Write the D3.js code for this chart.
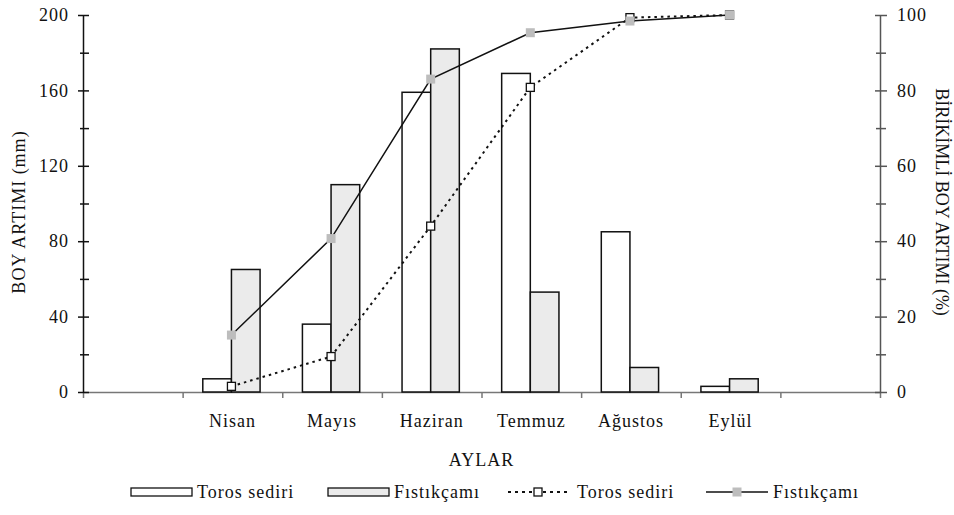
<!DOCTYPE html>
<html>
<head>
<meta charset="utf-8">
<script src="https://cdn.jsdelivr.net/npm/d3@7"></script>
<style>
  body { margin: 0; background: #fff; }
  svg text { font-family: "Liberation Serif", "Times New Roman", serif; font-size: 18px; letter-spacing: 1px; fill: #111; }
</style>
</head>
<body>
<svg width="954" height="515"></svg>
<script>
// values
let months = ["Nisan", "Mayıs", "Haziran", "Temmuz", "Ağustos", "Eylül"];
let torosBoy = [7, 36, 159, 169, 85, 3];          // mm
let fistikBoy = [65, 110, 182, 53, 13, 7];        // mm
let torosBirikimli = [1.5, 9.4, 44, 80.8, 99.3, 100];  // %
let fistikBirikimli = [15.1, 40.7, 83, 95.3, 98.4, 100]; // %
let leftTicks = [0, 40, 80, 120, 160, 200];
let rightTicks = [0, 20, 40, 60, 80, 100];

let svg = d3.select("svg");

let margin = { top: 15, right: 74, bottom: 123, left: 83 },
    width = +svg.attr("width") - margin.left - margin.right,
    height = +svg.attr("height") - margin.top - margin.bottom;

let g = svg.append("g")
    .attr("transform", "translate(" + margin.left + "," + margin.top + ")");

// empty category on each side, like the original
let domain = ["", ...months, " "];

let x = d3.scaleBand()
    .domain(domain)
    .range([0, width]);

let bw = x.bandwidth();
let groupW = bw * 0.575;

let xInner = d3.scaleBand()
    .domain(["toros", "fistik"])
    .range([(bw - groupW) / 2 - 1, (bw + groupW) / 2 - 1]);

let y = d3.scaleLinear().domain([0, 200]).range([height, 0]);
let yR = d3.scaleLinear().domain([0, 100]).range([height, 0]);

let xEdge = d3.scaleLinear().domain([0, domain.length]).range([0, width]);

// x axis: ticks on category boundaries
g.append("g")
    .attr("transform", "translate(0," + height + ")")
    .call(d3.axisBottom(xEdge).tickValues(d3.range(0, domain.length + 1)).tickFormat("").tickSizeInner(6).tickSizeOuter(0))
    .call(a => a.select(".domain").attr("stroke", "#777").attr("stroke-width", 1.5))
    .call(a => a.selectAll(".tick line").attr("stroke", "#777").attr("stroke-width", 1.5));

g.append("g")
    .attr("transform", "translate(0," + height + ")")
    .call(d3.axisBottom(x).tickSize(0).tickPadding(22))
    .attr("font-size", null).attr("font-family", null)
    .call(a => a.select(".domain").remove());

// left axis
g.append("g")
    .call(d3.axisLeft(y).tickValues(leftTicks).tickSize(0).tickPadding(14))
    .attr("font-size", null).attr("font-family", null)
    .call(a => a.select(".domain").attr("stroke", "#111").attr("stroke-width", 1.5))
    .call(a => a.selectAll(".tick line").attr("x1", -5).attr("x2", 6).attr("stroke", "#111").attr("stroke-width", 1.5));

g.append("g")
    .call(d3.axisLeft(y).tickValues(d3.range(20, 200, 40)).tickFormat("").tickSize(0))
    .call(a => a.select(".domain").remove())
    .call(a => a.selectAll(".tick line").attr("x1", -3).attr("x2", 6).attr("stroke", "#111").attr("stroke-width", 1.5));

// right axis
g.append("g")
    .attr("transform", "translate(" + width + ",0)")
    .call(d3.axisRight(yR).tickValues(rightTicks).tickSize(0).tickPadding(17))
    .attr("font-size", null).attr("font-family", null)
    .call(a => a.select(".domain").attr("stroke", "#555").attr("stroke-width", 1.5))
    .call(a => a.selectAll(".tick line").attr("x1", -5).attr("x2", 7).attr("stroke", "#555").attr("stroke-width", 1.5));

g.append("g")
    .attr("transform", "translate(" + width + ",0)")
    .call(d3.axisRight(yR).tickValues(d3.range(10, 100, 20)).tickFormat("").tickSize(0))
    .call(a => a.select(".domain").remove())
    .call(a => a.selectAll(".tick line").attr("x1", -4).attr("x2", 6).attr("stroke", "#555").attr("stroke-width", 1.5));

// bars
let barData = months.map((m, i) => ({ m: m, toros: torosBoy[i], fistik: fistikBoy[i] }));

let groups = g.selectAll(".grp")
    .data(barData)
    .enter().append("g")
    .attr("transform", d => "translate(" + x(d.m) + ",0)");

groups.append("rect")
    .attr("x", xInner("toros"))
    .attr("y", d => y(d.toros))
    .attr("width", xInner.bandwidth())
    .attr("height", d => height - y(d.toros))
    .attr("fill", "#fff")
    .attr("stroke", "#111")
    .attr("stroke-width", 1.5);

groups.append("rect")
    .attr("x", xInner("fistik"))
    .attr("y", d => y(d.fistik))
    .attr("width", xInner.bandwidth())
    .attr("height", d => height - y(d.fistik))
    .attr("fill", "#ebebeb")
    .attr("stroke", "#111")
    .attr("stroke-width", 1.5);

// cumulative lines
let line = d3.line()
    .x(d => x(d.m) + bw / 2 - 1)
    .y(d => yR(d.v));

let torosLine = months.map((m, i) => ({ m: m, v: torosBirikimli[i] }));
let fistikLine = months.map((m, i) => ({ m: m, v: fistikBirikimli[i] }));

g.append("path")
    .datum(torosLine)
    .attr("d", line)
    .attr("fill", "none")
    .attr("stroke", "#111")
    .attr("stroke-width", 2)
    .attr("stroke-dasharray", "2.5,4");

g.append("path")
    .datum(fistikLine)
    .attr("d", line)
    .attr("fill", "none")
    .attr("stroke", "#111")
    .attr("stroke-width", 1.5);

g.selectAll(".mk-toros")
    .data(torosLine)
    .enter().append("rect")
    .attr("x", d => x(d.m) + bw / 2 - 1 - 4)
    .attr("y", d => yR(d.v) - 4)
    .attr("width", 8).attr("height", 8)
    .attr("fill", "#fff")
    .attr("stroke", "#111")
    .attr("stroke-width", 1.3);

g.selectAll(".mk-fistik")
    .data(fistikLine)
    .enter().append("rect")
    .attr("x", d => x(d.m) + bw / 2 - 1 - 4.5)
    .attr("y", d => yR(d.v) - 4.5)
    .attr("width", 9).attr("height", 9)
    .attr("fill", "#bdbdbd");

// axis titles
svg.append("text")
    .attr("transform", "translate(25,212) rotate(-90)")
    .attr("text-anchor", "middle")
    .text("BOY ARTIMI (mm)");

svg.append("text")
    .attr("transform", "translate(936,202) rotate(90)")
    .attr("text-anchor", "middle")
    .style("letter-spacing", "0px")
    .text("BİRİKİMLİ BOY ARTIMI (%)");

svg.append("text")
    .attr("x", margin.left + width / 2)
    .attr("y", 466)
    .attr("text-anchor", "middle")
    .text("AYLAR");

// legend
let legendY = 492;
let lg = svg.append("g");

lg.append("rect").attr("x", 131).attr("y", legendY - 4).attr("width", 61).attr("height", 8)
    .attr("fill", "#fff").attr("stroke", "#111").attr("stroke-width", 1.3);
lg.append("text").attr("x", 197).attr("y", legendY).attr("dy", "0.35em").text("Toros sediri");

lg.append("rect").attr("x", 328).attr("y", legendY - 4).attr("width", 61).attr("height", 8)
    .attr("fill", "#ebebeb").attr("stroke", "#111").attr("stroke-width", 1.3);
lg.append("text").attr("x", 394).attr("y", legendY).attr("dy", "0.35em").text("Fıstıkçamı");

lg.append("line").attr("x1", 508).attr("x2", 569).attr("y1", legendY).attr("y2", legendY)
    .attr("stroke", "#111").attr("stroke-width", 2).attr("stroke-dasharray", "3,4");
lg.append("rect").attr("x", 534).attr("y", legendY - 4).attr("width", 8).attr("height", 8)
    .attr("fill", "#fff").attr("stroke", "#111").attr("stroke-width", 1.3);
lg.append("text").attr("x", 577).attr("y", legendY).attr("dy", "0.35em").text("Toros sediri");

lg.append("line").attr("x1", 706).attr("x2", 768).attr("y1", legendY).attr("y2", legendY)
    .attr("stroke", "#111").attr("stroke-width", 1.5);
lg.append("rect").attr("x", 732.5).attr("y", legendY - 4.5).attr("width", 9).attr("height", 9)
    .attr("fill", "#bdbdbd");
lg.append("text").attr("x", 773).attr("y", legendY).attr("dy", "0.35em").text("Fıstıkçamı");
</script>
</body>
</html>
